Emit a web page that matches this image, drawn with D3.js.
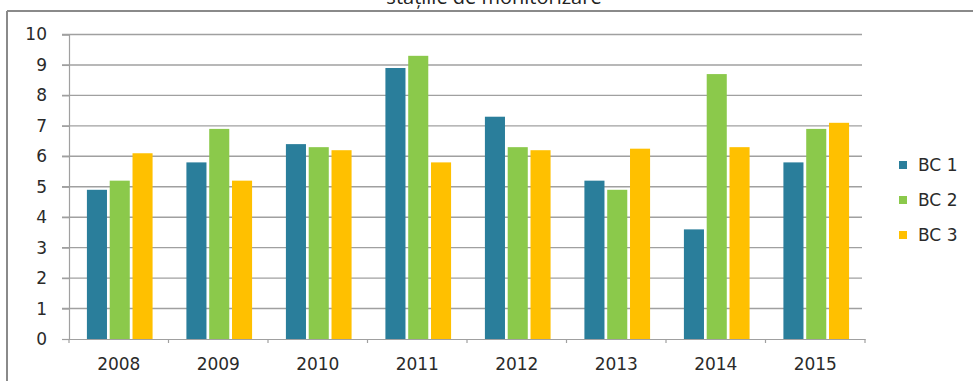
<!DOCTYPE html>
<html>
<head>
<meta charset="utf-8">
<script src="https://cdn.jsdelivr.net/npm/d3@7"></script>
<style>
  html, body { margin: 0; padding: 0; background: #fff; }
  svg { display: block; }
</style>
</head>
<body>
<svg id="chart" width="973" height="381"></svg>
<script>
// Years on the category axis
const years = ["2008", "2009", "2010", "2011", "2012", "2013", "2014", "2015"];
// Series names shown in the legend
const seriesNames = ["BC 1", "BC 2", "BC 3"];
// Values per station, one entry per year
const bc1 = [4.9, 5.8, 6.4, 8.9, 7.3, 5.2, 3.6, 5.8];
const bc2 = [5.2, 6.9, 6.3, 9.3, 6.3, 4.9, 8.7, 6.9];
const bc3 = [6.1, 5.2, 6.2, 5.8, 6.2, 6.25, 6.3, 7.1];
// Value axis ticks
const yTicks = [0, 1, 2, 3, 4, 5, 6, 7, 8, 9, 10];

const colors = ["#2a7e9b", "#8bc94b", "#ffc000"];
const seriesValues = [bc1, bc2, bc3];

const svg = d3.select("#chart");
const plotLeft = 69, plotRight = 865, plotTop = 34.5, plotBottom = 339;

const x = d3.scaleBand().domain(years).range([plotLeft, plotRight]).paddingInner(0).paddingOuter(0);
const x1 = d3.scaleBand().domain(seriesNames).range([0, x.bandwidth() * 0.66]).paddingInner(0.12);
const y = d3.scaleLinear().domain([0, 10]).range([plotBottom, plotTop]);

// Outer frame (top and left edges)
svg.append("line").attr("x1", 7).attr("x2", 973).attr("y1", 11).attr("y2", 11)
  .attr("stroke", "#8a8a8a").attr("stroke-width", 2);
svg.append("line").attr("x1", 7).attr("x2", 7).attr("y1", 11).attr("y2", 381)
  .attr("stroke", "#8a8a8a").attr("stroke-width", 2);

// Title, partly above the frame
svg.append("text").attr("x", 494).attr("y", 4)
  .attr("text-anchor", "middle")
  .attr("font-family", "'Open Sans', sans-serif")
  .attr("font-size", 20).attr("fill", "#222")
  .text("stațiile de monitorizare");

// Horizontal gridlines
svg.append("g").selectAll("line").data(yTicks.filter(d => d > 0)).join("line")
  .attr("x1", plotLeft - 7).attr("x2", plotRight - 3)
  .attr("y1", d => y(d)).attr("y2", d => y(d))
  .attr("stroke", "#a0a0a0").attr("stroke-width", 1.4);

// Value axis
const yAxis = d3.axisLeft(y).tickValues(yTicks).tickSize(7).tickPadding(15).tickFormat(d3.format("d"));
const gy = svg.append("g").attr("transform", `translate(${plotLeft},0)`).call(yAxis);
gy.select(".domain").attr("stroke", "#a0a0a0").attr("stroke-width", 1.2);
gy.selectAll(".tick line").attr("stroke", "#a0a0a0").attr("stroke-width", 1.2);
gy.selectAll(".tick text")
  .attr("font-family", "'DejaVu Sans', sans-serif")
  .attr("font-size", 17).attr("fill", "#2a2a2a");

// Bars
const groups = svg.append("g").selectAll("g").data(years).join("g")
  .attr("transform", d => `translate(${x(d) + x.bandwidth() * 0.18},0)`);
groups.selectAll("rect")
  .data((yr, i) => seriesNames.map((s, k) => ({ s, k, v: seriesValues[k][i] })))
  .join("rect")
  .attr("x", d => x1(d.s))
  .attr("width", x1.bandwidth())
  .attr("y", d => y(d.v))
  .attr("height", d => y(0) - y(d.v))
  .attr("fill", d => colors[d.k]);

// Category axis
const xAxis = d3.axisBottom(x).tickSize(0).tickPadding(19);
const gx = svg.append("g").attr("transform", `translate(0,${plotBottom})`).call(xAxis);
gx.select(".domain").attr("stroke", "#a0a0a0").attr("stroke-width", 1.2);
gx.selectAll(".tick text")
  .attr("font-family", "'DejaVu Sans', sans-serif")
  .attr("font-size", 17).attr("fill", "#2a2a2a");
// Tick marks at the category boundaries
svg.append("g").selectAll("line").data(years.concat(["end"])).join("line")
  .attr("x1", (d, i) => plotLeft + i * x.step()).attr("x2", (d, i) => plotLeft + i * x.step())
  .attr("y1", plotBottom).attr("y2", plotBottom + 4)
  .attr("stroke", "#a0a0a0").attr("stroke-width", 1.2);

// Legend
const legend = svg.append("g").selectAll("g").data(seriesNames).join("g")
  .attr("transform", (d, i) => `translate(899,${165 + i * 35})`);
legend.append("rect").attr("x", 0).attr("y", -4).attr("width", 8).attr("height", 8)
  .attr("fill", (d, i) => colors[i]);
legend.append("text").attr("x", 19).attr("y", 6)
  .attr("font-family", "'DejaVu Sans', sans-serif")
  .attr("font-size", 17).attr("fill", "#2a2a2a")
  .text(d => d);
</script>
</body>
</html>
